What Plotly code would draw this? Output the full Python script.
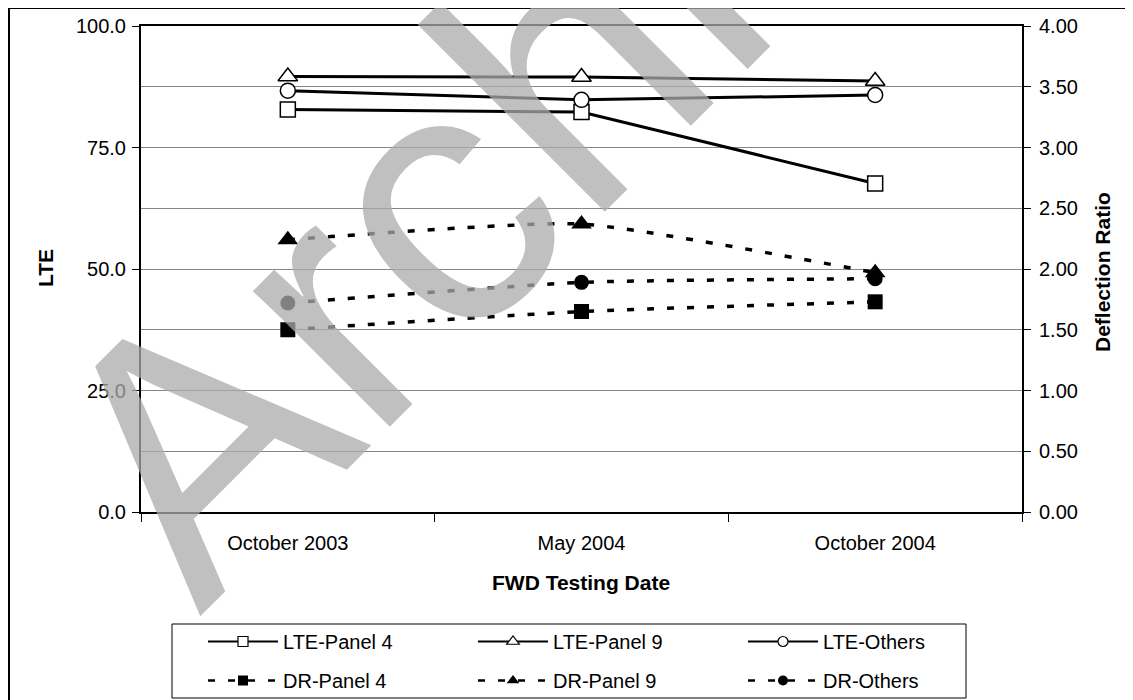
import plotly.graph_objects as go

# ---------------- data ----------------
dates = ["October 2003", "May 2004", "October 2004"]
lte_panel4 = [82.8, 82.3, 67.6]
lte_panel9 = [89.6, 89.5, 88.7]
lte_others = [86.7, 84.8, 85.8]
dr_panel4 = [1.50, 1.65, 1.73]
dr_panel9 = [2.24, 2.37, 1.97]
dr_others = [1.72, 1.89, 1.92]
lte_ticks = [0, 25, 50, 75, 100]
dr_ticks = [0, 0.5, 1.0, 1.5, 2.0, 2.5, 3.0, 3.5, 4.0]

FONT = "Arial, Liberation Sans, sans-serif"

# page geometry (page pixels); the figure sits at an 8px body offset
W, H = 1133, 700
OFF = 8
PL, PR, PT, PB = 141, 1022, 26, 512


def px(x):
    return (x - PL) / (PR - PL)


def py(y):
    return (PB - y) / (PB - PT)


fig = go.Figure()

solid = dict(color="black", width=3)
dashed = dict(color="black", width=3.5, dash="7px,13px", shape="spline", smoothing=0.5)

series = [
    ("LTE-Panel 4", lte_panel4, "y", "square", 15, "white", False),
    ("LTE-Panel 9", lte_panel9, "y", "triangle-up", 17, "white", False),
    ("LTE-Others", lte_others, "y", "circle", 15, "white", False),
    ("DR-Panel 4", dr_panel4, "y2", "square", 15, "black", True),
    ("DR-Panel 9", dr_panel9, "y2", "triangle-up", 18, "black", True),
    ("DR-Others", dr_others, "y2", "circle", 15, "black", True),
]

for name, vals, yax, sym, size, fill, is_dash in series:
    fig.add_trace(go.Scatter(
        x=dates, y=vals, name=name, mode="lines+markers", yaxis=yax,
        line=dashed if is_dash else solid, showlegend=False, legendgroup=name,
        marker=dict(symbol=sym, size=size, color=fill,
                    line=dict(color="black", width=0 if is_dash else 1.5))))

# legend entries (styled like the reference's small legend keys; no data of their own)
for name, vals, yax, sym, size, fill, is_dash in series:
    fig.add_trace(go.Scatter(
        x=[None], y=[None], name=name, mode="lines+markers", yaxis=yax,
        legendgroup=name, showlegend=True,
        line=(dict(color="black", width=2.5, dash="7px,13px") if is_dash
              else dict(color="black", width=2)),
        marker=dict(symbol=sym, size=10 if sym != "triangle-up" else 11, color=fill,
                    line=dict(color="black", width=0 if is_dash else 1.2))))

fig.update_layout(
    width=W, height=H,
    margin=dict(l=PL - OFF, r=W - (PR - OFF), t=PT - OFF, b=H - (PB - OFF), autoexpand=False),
    paper_bgcolor="white", plot_bgcolor="white",
    font=dict(family=FONT, size=20, color="black"),
    showlegend=True,
    legend=dict(orientation="h", x=px(203), y=py(622), xanchor="left", yanchor="top",
                entrywidth=185, itemwidth=70, itemsizing="trace",
                bgcolor="rgba(0,0,0,0)", borderwidth=0,
                font=dict(family=FONT, size=20, color="black")),
    xaxis=dict(type="category", range=[-0.5, 2.5], showline=True, linecolor="black",
               linewidth=2, mirror=True, ticks="outside", ticklen=8, tickcolor="black",
               tickson="boundaries", showgrid=False, zeroline=False,
               ticklabelstandoff=12, tickfont=dict(size=20)),
    yaxis=dict(range=[0, 100], tickvals=lte_ticks, tickformat=".1f", showline=True,
               linecolor="black", linewidth=2, ticks="outside", ticklen=7,
               tickcolor="black", showgrid=True, gridcolor="#868686", gridwidth=1,
               minor=dict(dtick=12.5, showgrid=True, gridcolor="#868686", gridwidth=1),
               zeroline=False, tickfont=dict(size=20), ticklabelstandoff=2),
    yaxis2=dict(range=[0, 4], tickvals=dr_ticks, tickformat=".2f", overlaying="y",
                side="right", showline=True, linecolor="black", linewidth=2,
                ticks="outside", ticklen=7, tickcolor="black", showgrid=False,
                zeroline=False, tickfont=dict(size=20), ticklabelstandoff=4),
)

annotations = [
    dict(text="<b>FWD Testing Date</b>", x=px(581), y=py(582), xref="paper", yref="paper",
         showarrow=False, xanchor="center", yanchor="middle", font=dict(size=21)),
    dict(text="<b>LTE</b>", x=px(45), y=py(268), xref="paper", yref="paper",
         showarrow=False, xanchor="center", yanchor="middle", textangle=-90,
         font=dict(size=21)),
    dict(text="<b>Deflection Ratio</b>", x=px(1102), y=py(272), xref="paper", yref="paper",
         showarrow=False, xanchor="center", yanchor="middle", textangle=-90,
         font=dict(size=21)),
    # watermark
    dict(text="Archived", x=px(612), y=py(25), xref="paper", yref="paper",
         showarrow=False, xanchor="center", yanchor="middle", textangle=-45,
         font=dict(family=FONT, size=365, color="rgba(171,171,171,0.75)")),
]
fig.update_layout(annotations=annotations)

shapes = [
    # outer chart border (extends beyond the right/bottom edges)
    dict(type="rect", xref="paper", yref="paper", x0=px(9), x1=px(1150), y0=py(720), y1=py(8),
         line=dict(color="black", width=2), fillcolor="rgba(0,0,0,0)", layer="above"),
    # legend frame
    dict(type="rect", xref="paper", yref="paper", x0=px(172), x1=px(966), y0=py(698), y1=py(624),
         line=dict(color="black", width=1), fillcolor="rgba(0,0,0,0)", layer="above"),
]
fig.update_layout(shapes=shapes)

fig.write_html("out.html")
